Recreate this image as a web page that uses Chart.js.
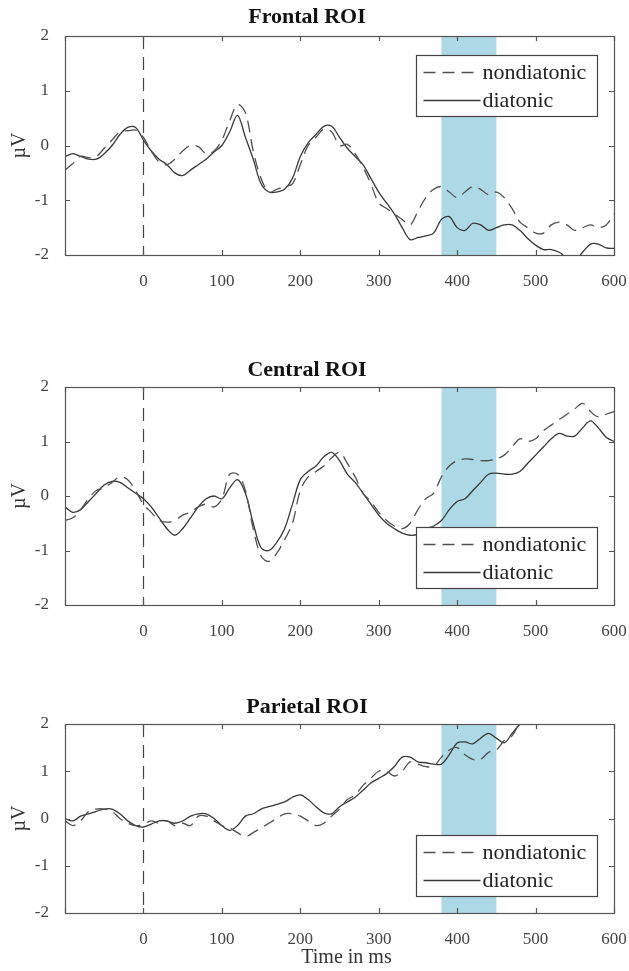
<!DOCTYPE html>
<html>
<head>
<meta charset="utf-8">
<script src="https://cdn.jsdelivr.net/npm/chart.js@4.4.1/dist/chart.umd.min.js"></script>
<style>
  body { margin: 0; background: #fff; width: 629px; height: 971px; position: relative; overflow: hidden; }
  canvas { position: absolute; left: 0; }
</style>
</head>
<body>
<canvas id="frontal" width="629" height="320" style="top:0"></canvas>
<canvas id="central" width="629" height="320" style="top:320px"></canvas>
<canvas id="parietal" width="629" height="331" style="top:640px"></canvas>
<script>
// Time points (ms)
const times = [-100, -90, -80, -70, -60, -50, -40, -30, -20, -10,
  0, 10, 20, 30, 40, 50, 60, 70, 80, 90,
  100, 110, 120, 130, 140, 150, 160, 170, 180, 190,
  200, 210, 220, 230, 240, 250, 260, 270, 280, 290,
  300, 310, 320, 330, 340, 350, 360, 370, 380, 390,
  400, 410, 420, 430, 440, 450, 460, 470, 480, 490,
  500, 510, 520, 530, 540, 550, 560, 570, 580, 590, 600];

// Frontal ROI (µV)
const frontalNondiatonic = [-0.45, -0.33, -0.2, -0.22, -0.2, -0.05, 0.1, 0.25, 0.27, 0.28,
  0.15, -0.1, -0.3, -0.35, -0.25, -0.1, 0.0, -0.02, -0.15, -0.1,
  0.1, 0.45, 0.75, 0.6, -0.1, -0.6, -0.85, -0.8, -0.75, -0.7,
  -0.35, 0.0, 0.15, 0.3, 0.25, 0.0, 0.02, -0.15, -0.4, -0.7,
  -1.05, -1.15, -1.25, -1.35, -1.45, -1.2, -0.95, -0.8, -0.75, -0.85,
  -0.95, -0.85, -0.75, -0.8, -0.9, -0.85, -0.95, -1.15, -1.4, -1.5,
  -1.6, -1.6, -1.45, -1.4, -1.45, -1.55, -1.5, -1.45, -1.5, -1.45, -1.25];
const frontalDiatonic = [-0.2, -0.15, -0.2, -0.25, -0.25, -0.15, 0.0, 0.2, 0.33, 0.33,
  0.1, -0.1, -0.25, -0.35, -0.5, -0.55, -0.45, -0.35, -0.25, -0.12,
  0.0, 0.25, 0.55, 0.15, -0.25, -0.7, -0.85, -0.85, -0.8, -0.6,
  -0.2, 0.05, 0.2, 0.35, 0.35, 0.15, -0.05, -0.2, -0.35, -0.6,
  -0.85, -1.05, -1.25, -1.5, -1.72, -1.68, -1.65, -1.6, -1.35, -1.3,
  -1.5, -1.55, -1.42, -1.45, -1.55, -1.5, -1.45, -1.45, -1.55, -1.7,
  -1.82, -1.9, -1.9, -1.95, -2.05, -2.1, -1.95, -1.8, -1.8, -1.87, -1.88];

// Central ROI (µV)
const centralNondiatonic = [-0.45, -0.4, -0.25, -0.05, 0.1, 0.15, 0.25, 0.35, 0.3, 0.1,
  -0.15, -0.3, -0.45, -0.48, -0.45, -0.35, -0.3, -0.2, -0.15, -0.2,
  -0.05, 0.4, 0.4, 0.1, -0.6, -1.1, -1.2, -1.05, -0.8, -0.5,
  0.1, 0.35, 0.45, 0.55, 0.7, 0.8, 0.6, 0.35, 0.05, -0.1,
  -0.3, -0.45, -0.55, -0.6, -0.5, -0.25, -0.05, 0.05, 0.35, 0.55,
  0.65, 0.68, 0.67, 0.65, 0.65, 0.68, 0.75, 0.9, 1.05, 1.0,
  1.05, 1.2, 1.3, 1.4, 1.5, 1.6, 1.7, 1.55, 1.45, 1.5, 1.55];
const centralDiatonic = [-0.2, -0.3, -0.25, -0.1, 0.05, 0.2, 0.27, 0.25, 0.15, 0.05,
  -0.05, -0.2, -0.4, -0.6, -0.72, -0.6, -0.4, -0.2, -0.05, 0.0,
  -0.05, 0.15, 0.3, 0.05, -0.5, -0.95, -1.0, -0.85, -0.6, -0.15,
  0.3, 0.45, 0.55, 0.72, 0.8, 0.65, 0.4, 0.25, 0.05, -0.15,
  -0.35, -0.5, -0.6, -0.68, -0.72, -0.7, -0.6, -0.55, -0.45, -0.25,
  -0.1, -0.05, 0.1, 0.25, 0.4, 0.42, 0.4, 0.4, 0.45, 0.6,
  0.75, 0.9, 1.05, 1.15, 1.1, 1.1, 1.25, 1.38, 1.25, 1.08, 1.0];

// Parietal ROI (µV); null where the trace leaves the plot
const parietalNondiatonic = [-0.05, -0.15, -0.05, 0.15, 0.2, 0.2, 0.15, 0.0, -0.1, -0.15,
  -0.12, -0.05, -0.1, -0.05, -0.15, -0.1, -0.15, 0.05, 0.05, -0.05,
  -0.15, -0.2, -0.3, -0.38, -0.3, -0.2, -0.1, 0.0, 0.1, 0.1,
  0.05, -0.05, -0.15, -0.1, 0.05, 0.2, 0.4, 0.5, 0.7, 0.85,
  1.0, 1.0, 0.9, 1.0, 1.2, 1.15, 1.1, 1.1, 1.3, 1.45,
  1.5, 1.35, 1.25, 1.25, 1.4, 1.45, 1.65, 1.75, 2.05, null,
  null, null, null, null, null, null, null, null, null, null, null];
const parietalDiatonic = [0.0, -0.05, 0.05, 0.1, 0.15, 0.2, 0.2, 0.1, -0.05, -0.15,
  -0.18, -0.12, -0.05, -0.05, -0.1, -0.05, 0.05, 0.1, 0.1, 0.0,
  -0.15, -0.25, -0.15, 0.05, 0.1, 0.2, 0.25, 0.3, 0.35, 0.45,
  0.5, 0.4, 0.25, 0.12, 0.1, 0.25, 0.35, 0.45, 0.6, 0.75,
  0.85, 0.95, 1.1, 1.3, 1.3, 1.2, 1.18, 1.15, 1.15, 1.35,
  1.6, 1.62, 1.58, 1.7, 1.8, 1.7, 1.6, 1.8, 2.0, 2.2,
  null, null, null, null, null, null, null, null, null, null, null];

// Analysis window (ms)
const windowStart = 380;
const windowEnd = 450;

const seriesLabels = ["nondiatonic", "diatonic"];
const xAxisLabel = "Time in ms";
const serif = "'Liberation Serif', 'Times New Roman', serif";

// Shading, onset line, box frame, inward ticks and the boxed legend
const erpDecor = {
  id: "erpDecor",
  beforeDatasetsDraw(chart) {
    const { ctx, chartArea: a, scales: { x } } = chart;
    const x0 = x.getPixelForValue(windowStart);
    const x1 = x.getPixelForValue(windowEnd);
    ctx.save();
    ctx.fillStyle = "#add8e6";
    ctx.fillRect(x0, a.top, x1 - x0, a.bottom - a.top);
    const xz = Math.round(x.getPixelForValue(0)) + 0.5;
    ctx.strokeStyle = "#444";
    ctx.lineWidth = 1.2;
    ctx.setLineDash([13, 8]);
    ctx.beginPath();
    ctx.moveTo(xz, a.top);
    ctx.lineTo(xz, a.bottom);
    ctx.stroke();
    ctx.restore();
  },
  afterDatasetsDraw(chart, args, opts) {
    const { ctx, chartArea: a, scales: { x, y } } = chart;
    ctx.save();
    ctx.strokeStyle = "#555";
    ctx.lineWidth = 1.2;
    ctx.setLineDash([]);
    ctx.strokeRect(Math.round(a.left) + 0.5, Math.round(a.top) + 0.5,
      Math.round(a.right - a.left), Math.round(a.bottom - a.top));

    ctx.beginPath();
    x.ticks.forEach((t) => {
      const px = Math.round(x.getPixelForValue(t.value)) + 0.5;
      ctx.moveTo(px, a.bottom); ctx.lineTo(px, a.bottom - 5);
      ctx.moveTo(px, a.top); ctx.lineTo(px, a.top + 5);
    });
    y.ticks.forEach((t) => {
      const py = Math.round(y.getPixelForValue(t.value)) + 0.5;
      ctx.moveTo(a.left, py); ctx.lineTo(a.left + 5, py);
      ctx.moveTo(a.right, py); ctx.lineTo(a.right - 5, py);
    });
    ctx.stroke();

    // legend
    const w = 181, h = 61;
    const left = Math.round(a.right - 17 - w) + 0.5;
    const top = Math.round(opts.corner === "top" ? a.top + 19 : a.bottom - 17 - h) + 0.5;
    ctx.fillStyle = "#fff";
    ctx.fillRect(left, top, w, h);
    ctx.strokeStyle = "#444";
    ctx.strokeRect(left, top, w, h);
    ctx.font = "22px " + serif;
    ctx.textBaseline = "middle";
    ctx.textAlign = "left";
    chart.data.datasets.forEach((ds, i) => {
      const ry = top + 17 + i * 28;
      ctx.strokeStyle = ds.borderColor;
      ctx.lineWidth = 1.3;
      ctx.setLineDash(ds.borderDash || []);
      ctx.beginPath();
      ctx.moveTo(left + 7, ry);
      ctx.lineTo(left + 64, ry);
      ctx.stroke();
      ctx.fillStyle = "#222";
      ctx.fillText(ds.label, left + 66, ry + 1);
    });

    // x axis label, sits a little right of the plot centre in the original
    if (opts.xLabel) {
      ctx.font = "20px " + serif;
      ctx.fillStyle = "#333";
      ctx.textAlign = "center";
      ctx.fillText(opts.xLabel, (a.left + a.right) / 2 + 7, opts.xLabelY);
    }
    ctx.restore();
  },
};

function points(values) {
  return values.map((v, i) => ({ x: times[i], y: v }));
}

function makeChart(id, title, nondiatonic, diatonic, cfg) {
  return new Chart(document.getElementById(id).getContext("2d"), {
    type: "line",
    data: {
      datasets: [
        {
          label: seriesLabels[0],
          data: points(nondiatonic),
          borderColor: "#505050",
          borderWidth: 1.3,
          borderDash: [12, 7],
          pointRadius: 0,
          tension: 0.35,
        },
        {
          label: seriesLabels[1],
          data: points(diatonic),
          borderColor: "#383838",
          borderWidth: 1.3,
          pointRadius: 0,
          tension: 0.35,
        },
      ],
    },
    options: {
      responsive: false,
      animation: false,
      layout: { padding: { top: cfg.padTop, right: 15, left: 0, bottom: 0 } },
      scales: {
        x: {
          type: "linear",
          min: -100,
          max: 600,
          grid: { display: false },
          border: { display: false },
          ticks: {
            stepSize: 100,
            padding: 8,
            maxRotation: 0,
            autoSkip: false,
            color: "#444",
            font: { family: serif, size: 17 },
            callback: (v) => (v < 0 ? "" : v),
          },
          afterFit: (s) => {
            s.height = cfg.xHeight;
            s.paddingLeft = 0;
            s.paddingRight = 0;
          },
        },
        y: {
          min: -2,
          max: 2,
          grid: { display: false },
          border: { display: false },
          ticks: {
            stepSize: 1,
            padding: 8,
            color: "#444",
            font: { family: serif, size: 17 },
          },
          title: {
            display: true,
            text: "µV",
            color: "#333",
            font: { family: serif, size: 20 },
            padding: { top: 8, bottom: 0 },
          },
          afterFit: (s) => { s.width = 65; },
        },
      },
      plugins: {
        legend: { display: false },
        tooltip: { enabled: false },
        title: {
          display: true,
          text: title,
          color: "#111",
          font: { family: serif, size: 22, weight: "bold" },
          padding: { top: cfg.titleTop, bottom: 9.6 - cfg.titleTop },
        },
        erpDecor: { corner: cfg.legendCorner, xLabel: cfg.xLabel, xLabelY: cfg.xLabelY },
      },
    },
    plugins: [erpDecor],
  });
}

makeChart("frontal", "Frontal ROI", frontalNondiatonic, frontalDiatonic,
  { padTop: 0, titleTop: 4, xHeight: 65, legendCorner: "top" });
makeChart("central", "Central ROI", centralNondiatonic, centralDiatonic,
  { padTop: 31, titleTop: 6, xHeight: 35, legendCorner: "bottom" });
makeChart("parietal", "Parietal ROI", parietalNondiatonic, parietalDiatonic,
  { padTop: 48, titleTop: 6, xHeight: 58, legendCorner: "bottom",
    xLabel: xAxisLabel, xLabelY: 318 });
</script>
</body>
</html>
